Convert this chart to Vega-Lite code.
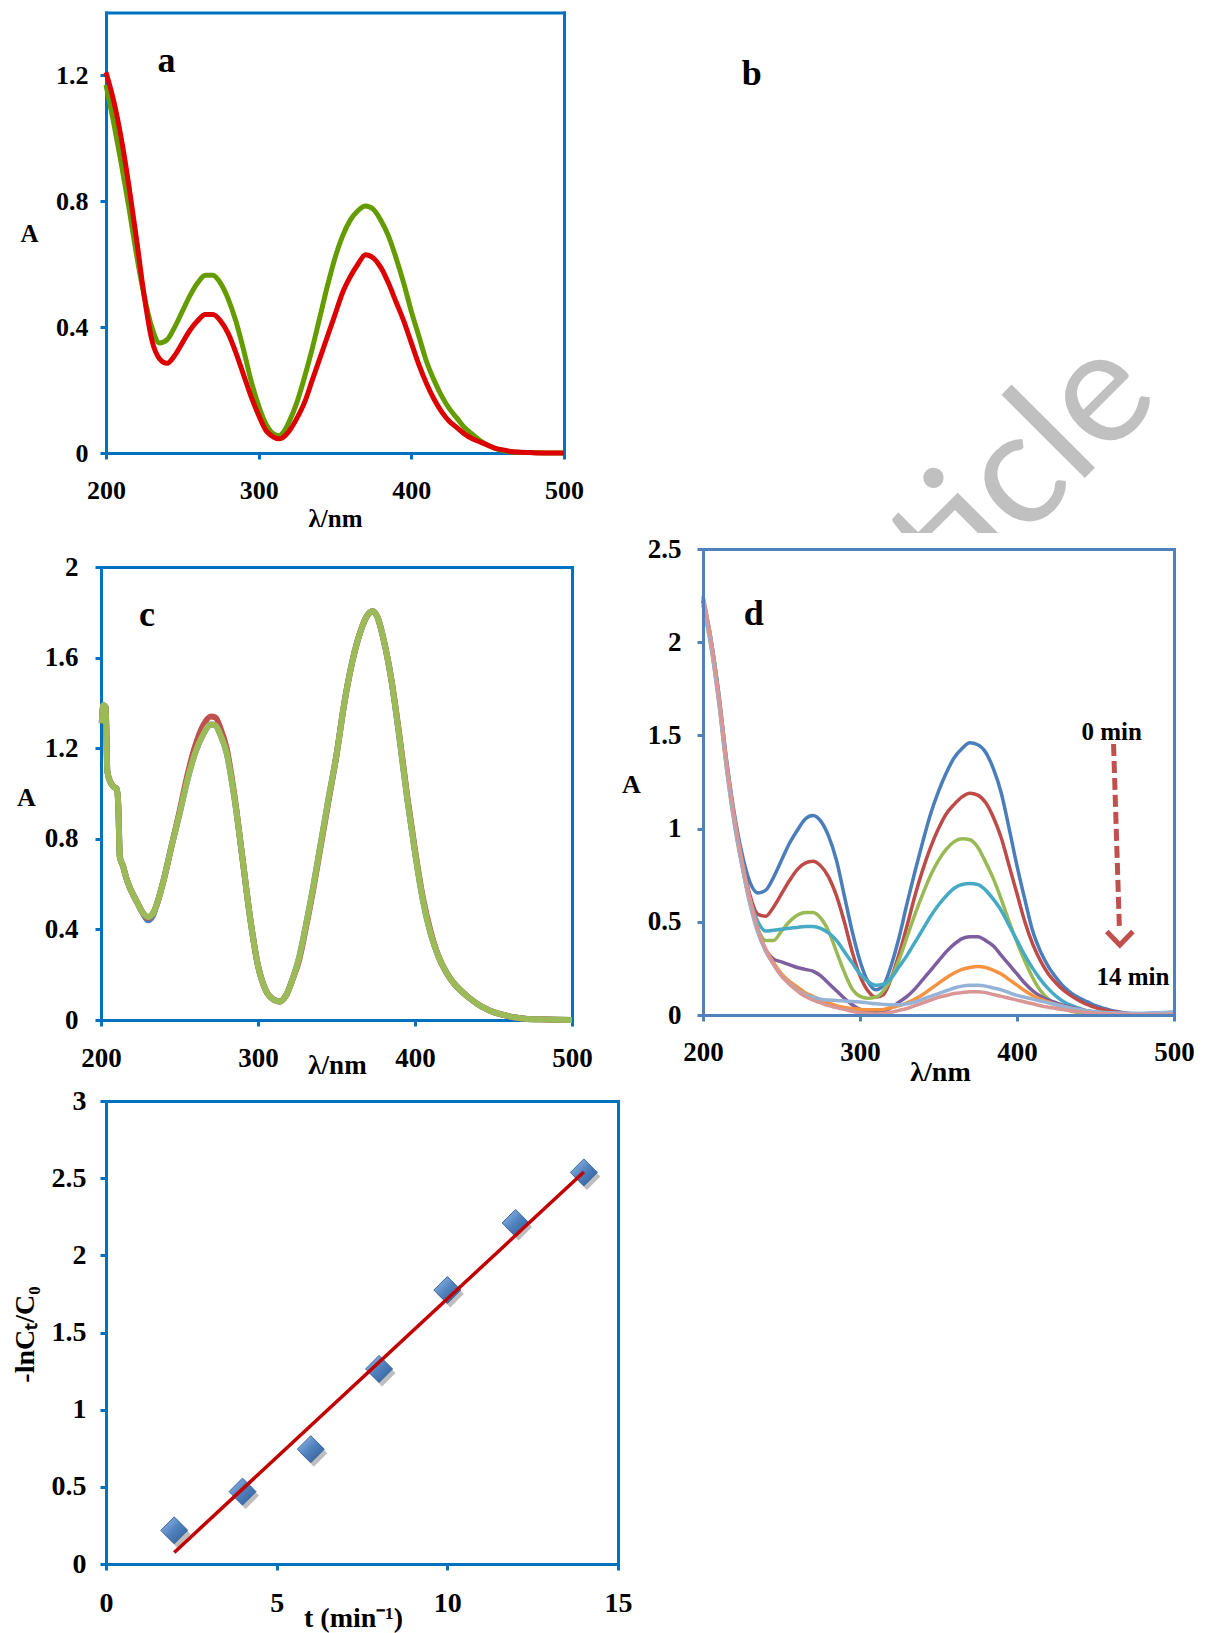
{
  "$schema": "https://vega.github.io/schema/vega-lite/v6.json",
  "width": 1205,
  "height": 1633,
  "autosize": "none",
  "padding": 0,
  "background": "white",
  "config": {
    "view": {"stroke": null},
    "axis": {"grid": false, "labelFont": "Liberation Serif", "labelFontWeight": "bold", "labelColor": "#000000", "titleFont": "Liberation Serif", "titleFontWeight": "bold", "titleColor": "#000000", "tickWidth": 3, "tickSize": 6, "domainWidth": 3, "domainCap": "square", "labelBaseline": "middle", "titleAlign": "center", "titleBaseline": "middle", "format": ".3~f", "labelOverlap": false, "labelFlush": false},
    "text": {"font": "Liberation Serif", "fontWeight": "bold", "color": "#000000"}
  },
  "datasets": {
    "pa": [{"nm":200,"green":1.17,"red":1.21},{"nm":205,"green":1.05,"red":1.12},{"nm":210,"green":0.92,"red":1.0},{"nm":215,"green":0.78,"red":0.85},{"nm":220,"green":0.63,"red":0.68},{"nm":225,"green":0.5,"red":0.5},{"nm":230,"green":0.4,"red":0.36},{"nm":235,"green":0.35,"red":0.3},{"nm":240,"green":0.36,"red":0.285},{"nm":245,"green":0.4,"red":0.31},{"nm":250,"green":0.45,"red":0.35},{"nm":255,"green":0.5,"red":0.39},{"nm":260,"green":0.54,"red":0.42},{"nm":265,"green":0.565,"red":0.44},{"nm":270,"green":0.565,"red":0.44},{"nm":275,"green":0.54,"red":0.42},{"nm":280,"green":0.49,"red":0.38},{"nm":285,"green":0.42,"red":0.32},{"nm":290,"green":0.33,"red":0.25},{"nm":295,"green":0.23,"red":0.18},{"nm":300,"green":0.15,"red":0.12},{"nm":305,"green":0.09,"red":0.07},{"nm":310,"green":0.06,"red":0.05},{"nm":313,"green":0.055,"red":0.045},{"nm":316,"green":0.065,"red":0.05},{"nm":320,"green":0.1,"red":0.07},{"nm":325,"green":0.16,"red":0.11},{"nm":330,"green":0.24,"red":0.16},{"nm":335,"green":0.33,"red":0.23},{"nm":340,"green":0.43,"red":0.3},{"nm":345,"green":0.53,"red":0.37},{"nm":350,"green":0.62,"red":0.44},{"nm":355,"green":0.69,"red":0.51},{"nm":360,"green":0.74,"red":0.56},{"nm":365,"green":0.77,"red":0.6},{"nm":370,"green":0.785,"red":0.63},{"nm":375,"green":0.775,"red":0.62},{"nm":380,"green":0.74,"red":0.59},{"nm":385,"green":0.69,"red":0.54},{"nm":390,"green":0.62,"red":0.48},{"nm":395,"green":0.54,"red":0.42},{"nm":400,"green":0.45,"red":0.35},{"nm":405,"green":0.37,"red":0.28},{"nm":410,"green":0.29,"red":0.22},{"nm":415,"green":0.23,"red":0.17},{"nm":420,"green":0.18,"red":0.13},{"nm":425,"green":0.14,"red":0.1},{"nm":430,"green":0.11,"red":0.08},{"nm":435,"green":0.08,"red":0.06},{"nm":440,"green":0.06,"red":0.045},{"nm":445,"green":0.04,"red":0.035},{"nm":450,"green":0.025,"red":0.025},{"nm":455,"green":0.015,"red":0.015},{"nm":460,"green":0.008,"red":0.01},{"nm":465,"green":0.004,"red":0.005},{"nm":470,"green":0.002,"red":0.003},{"nm":480,"green":0.001,"red":0.001},{"nm":490,"green":0,"red":0},{"nm":500,"green":0,"red":0}],
    "la": [{"x":239.6,"y":1.246,"label":"a"},{"x":623,"y":1.206,"label":"b"}],
    "pc": [{"nm":200.5,"b":1.31,"r":1.31,"g":1.31},{"nm":201.5,"b":1.39,"r":1.39,"g":1.39},{"nm":203,"b":1.38,"r":1.38,"g":1.38},{"nm":204,"b":1.1,"r":1.1,"g":1.1},{"nm":206,"b":1.05,"r":1.05,"g":1.05},{"nm":208,"b":1.03,"r":1.03,"g":1.03},{"nm":210,"b":1.02,"r":1.02,"g":1.02},{"nm":211,"b":0.95,"r":0.95,"g":0.95},{"nm":212,"b":0.72,"r":0.72,"g":0.72},{"nm":214,"b":0.68,"r":0.68,"g":0.68},{"nm":216,"b":0.63,"r":0.63,"g":0.63},{"nm":218,"b":0.59,"r":0.59,"g":0.59},{"nm":220,"b":0.56,"r":0.56,"g":0.56},{"nm":223,"b":0.52,"r":0.52,"g":0.52},{"nm":226,"b":0.48,"r":0.48,"g":0.48},{"nm":230,"b":0.44,"r":0.45,"g":0.455},{"nm":233,"b":0.46,"r":0.47,"g":0.47},{"nm":236,"b":0.52,"r":0.52,"g":0.52},{"nm":240,"b":0.62,"r":0.62,"g":0.62},{"nm":245,"b":0.77,"r":0.77,"g":0.77},{"nm":250,"b":0.91,"r":0.92,"g":0.91},{"nm":255,"b":1.06,"r":1.08,"g":1.06},{"nm":260,"b":1.18,"r":1.21,"g":1.18},{"nm":265,"b":1.26,"r":1.3,"g":1.26},{"nm":270,"b":1.305,"r":1.34,"g":1.305},{"nm":273,"b":1.3,"r":1.335,"g":1.3},{"nm":276,"b":1.26,"r":1.29,"g":1.26},{"nm":280,"b":1.18,"r":1.2,"g":1.18},{"nm":285,"b":0.98,"r":0.99,"g":0.98},{"nm":290,"b":0.72,"r":0.72,"g":0.72},{"nm":295,"b":0.45,"r":0.45,"g":0.45},{"nm":300,"b":0.24,"r":0.24,"g":0.24},{"nm":305,"b":0.13,"r":0.13,"g":0.13},{"nm":310,"b":0.09,"r":0.09,"g":0.09},{"nm":314,"b":0.082,"r":0.082,"g":0.082},{"nm":318,"b":0.11,"r":0.11,"g":0.11},{"nm":322,"b":0.18,"r":0.18,"g":0.18},{"nm":326,"b":0.27,"r":0.26,"g":0.27},{"nm":330,"b":0.4,"r":0.39,"g":0.4},{"nm":335,"b":0.58,"r":0.57,"g":0.58},{"nm":340,"b":0.78,"r":0.77,"g":0.78},{"nm":345,"b":0.98,"r":0.97,"g":0.98},{"nm":350,"b":1.17,"r":1.17,"g":1.17},{"nm":355,"b":1.4,"r":1.4,"g":1.4},{"nm":360,"b":1.58,"r":1.58,"g":1.58},{"nm":365,"b":1.71,"r":1.71,"g":1.71},{"nm":370,"b":1.79,"r":1.79,"g":1.79},{"nm":373,"b":1.805,"r":1.805,"g":1.805},{"nm":376,"b":1.78,"r":1.78,"g":1.78},{"nm":380,"b":1.68,"r":1.68,"g":1.68},{"nm":385,"b":1.5,"r":1.5,"g":1.5},{"nm":390,"b":1.25,"r":1.26,"g":1.25},{"nm":395,"b":0.98,"r":0.99,"g":0.98},{"nm":400,"b":0.74,"r":0.75,"g":0.74},{"nm":405,"b":0.53,"r":0.54,"g":0.53},{"nm":410,"b":0.38,"r":0.39,"g":0.38},{"nm":415,"b":0.28,"r":0.28,"g":0.28},{"nm":420,"b":0.21,"r":0.21,"g":0.21},{"nm":425,"b":0.16,"r":0.16,"g":0.16},{"nm":430,"b":0.125,"r":0.125,"g":0.125},{"nm":435,"b":0.095,"r":0.095,"g":0.095},{"nm":440,"b":0.07,"r":0.07,"g":0.07},{"nm":445,"b":0.05,"r":0.05,"g":0.05},{"nm":450,"b":0.035,"r":0.035,"g":0.035},{"nm":455,"b":0.025,"r":0.025,"g":0.025},{"nm":460,"b":0.016,"r":0.016,"g":0.016},{"nm":465,"b":0.01,"r":0.01,"g":0.01},{"nm":470,"b":0.006,"r":0.006,"g":0.006},{"nm":480,"b":0.003,"r":0.003,"g":0.003},{"nm":490,"b":0.001,"r":0.001,"g":0.001},{"nm":500,"b":0,"r":0,"g":0}],
    "lc": [{"x":229.3,"y":1.788,"label":"c"}],
    "pd": [
      {"nm":200,"s0":2.24,"s2":2.22,"s4":2.22,"s6":2.23,"s8":2.22,"s10":2.2,"s12":2.2,"s14":2.25},
      {"nm":205,"s0":2.02,"s2":2.0,"s4":2.0,"s6":2.02,"s8":2.0,"s10":1.98,"s12":1.98,"s14":2.02},
      {"nm":210,"s0":1.73,"s2":1.7,"s4":1.7,"s6":1.72,"s8":1.7,"s10":1.68,"s12":1.68,"s14":1.72},
      {"nm":215,"s0":1.37,"s2":1.34,"s4":1.34,"s6":1.36,"s8":1.34,"s10":1.32,"s12":1.32,"s14":1.36},
      {"nm":220,"s0":1.08,"s2":1.05,"s4":1.04,"s6":1.06,"s8":1.04,"s10":1.03,"s12":1.02,"s14":1.06},
      {"nm":225,"s0":0.86,"s2":0.82,"s4":0.8,"s6":0.82,"s8":0.8,"s10":0.8,"s12":0.79,"s14":0.82},
      {"nm":230,"s0":0.71,"s2":0.64,"s4":0.6,"s6":0.62,"s8":0.6,"s10":0.6,"s12":0.59,"s14":0.62},
      {"nm":235,"s0":0.655,"s2":0.54,"s4":0.46,"s6":0.5,"s8":0.45,"s10":0.45,"s12":0.44,"s14":0.46},
      {"nm":240,"s0":0.67,"s2":0.53,"s4":0.4,"s6":0.45,"s8":0.35,"s10":0.35,"s12":0.34,"s14":0.35},
      {"nm":245,"s0":0.74,"s2":0.58,"s4":0.4,"s6":0.455,"s8":0.3,"s10":0.28,"s12":0.27,"s14":0.27},
      {"nm":250,"s0":0.83,"s2":0.65,"s4":0.45,"s6":0.46,"s8":0.285,"s10":0.22,"s12":0.21,"s14":0.21},
      {"nm":255,"s0":0.92,"s2":0.72,"s4":0.5,"s6":0.465,"s8":0.27,"s10":0.18,"s12":0.17,"s14":0.165},
      {"nm":260,"s0":0.99,"s2":0.78,"s4":0.535,"s6":0.47,"s8":0.255,"s10":0.15,"s12":0.135,"s14":0.13},
      {"nm":265,"s0":1.05,"s2":0.815,"s4":0.55,"s6":0.475,"s8":0.245,"s10":0.12,"s12":0.11,"s14":0.1},
      {"nm":270,"s0":1.07,"s2":0.825,"s4":0.55,"s6":0.475,"s8":0.235,"s10":0.1,"s12":0.095,"s14":0.08},
      {"nm":275,"s0":1.04,"s2":0.8,"s4":0.52,"s6":0.465,"s8":0.21,"s10":0.08,"s12":0.085,"s14":0.065},
      {"nm":280,"s0":0.96,"s2":0.74,"s4":0.45,"s6":0.44,"s8":0.17,"s10":0.065,"s12":0.08,"s14":0.05},
      {"nm":285,"s0":0.83,"s2":0.64,"s4":0.34,"s6":0.4,"s8":0.13,"s10":0.05,"s12":0.078,"s14":0.04},
      {"nm":290,"s0":0.64,"s2":0.5,"s4":0.23,"s6":0.34,"s8":0.09,"s10":0.04,"s12":0.075,"s14":0.03},
      {"nm":295,"s0":0.45,"s2":0.34,"s4":0.14,"s6":0.28,"s8":0.055,"s10":0.035,"s12":0.072,"s14":0.02},
      {"nm":300,"s0":0.29,"s2":0.21,"s4":0.1,"s6":0.22,"s8":0.03,"s10":0.03,"s12":0.07,"s14":0.012},
      {"nm":305,"s0":0.18,"s2":0.13,"s4":0.09,"s6":0.18,"s8":0.02,"s10":0.028,"s12":0.065,"s14":0.008},
      {"nm":310,"s0":0.135,"s2":0.095,"s4":0.095,"s6":0.16,"s8":0.015,"s10":0.028,"s12":0.06,"s14":0.006},
      {"nm":315,"s0":0.16,"s2":0.11,"s4":0.13,"s6":0.165,"s8":0.02,"s10":0.03,"s12":0.057,"s14":0.008},
      {"nm":320,"s0":0.27,"s2":0.2,"s4":0.2,"s6":0.2,"s8":0.04,"s10":0.04,"s12":0.055,"s14":0.015},
      {"nm":325,"s0":0.42,"s2":0.33,"s4":0.3,"s6":0.26,"s8":0.07,"s10":0.05,"s12":0.055,"s14":0.025},
      {"nm":330,"s0":0.6,"s2":0.48,"s4":0.42,"s6":0.32,"s8":0.1,"s10":0.065,"s12":0.06,"s14":0.035},
      {"nm":335,"s0":0.77,"s2":0.64,"s4":0.54,"s6":0.39,"s8":0.14,"s10":0.085,"s12":0.07,"s14":0.05},
      {"nm":340,"s0":0.93,"s2":0.78,"s4":0.65,"s6":0.46,"s8":0.19,"s10":0.11,"s12":0.085,"s14":0.065},
      {"nm":345,"s0":1.08,"s2":0.9,"s4":0.75,"s6":0.53,"s8":0.24,"s10":0.14,"s12":0.1,"s14":0.08},
      {"nm":350,"s0":1.2,"s2":1.0,"s4":0.83,"s6":0.59,"s8":0.29,"s10":0.17,"s12":0.115,"s14":0.095},
      {"nm":355,"s0":1.3,"s2":1.08,"s4":0.89,"s6":0.64,"s8":0.34,"s10":0.2,"s12":0.13,"s14":0.105},
      {"nm":360,"s0":1.38,"s2":1.13,"s4":0.93,"s6":0.68,"s8":0.38,"s10":0.225,"s12":0.145,"s14":0.115},
      {"nm":365,"s0":1.43,"s2":1.17,"s4":0.945,"s6":0.7,"s8":0.41,"s10":0.245,"s12":0.155,"s14":0.12},
      {"nm":370,"s0":1.46,"s2":1.19,"s4":0.94,"s6":0.705,"s8":0.42,"s10":0.255,"s12":0.16,"s14":0.125},
      {"nm":375,"s0":1.45,"s2":1.18,"s4":0.9,"s6":0.7,"s8":0.42,"s10":0.26,"s12":0.16,"s14":0.125},
      {"nm":380,"s0":1.41,"s2":1.14,"s4":0.82,"s6":0.67,"s8":0.4,"s10":0.255,"s12":0.155,"s14":0.12},
      {"nm":385,"s0":1.32,"s2":1.06,"s4":0.73,"s6":0.62,"s8":0.37,"s10":0.24,"s12":0.145,"s14":0.11},
      {"nm":390,"s0":1.19,"s2":0.95,"s4":0.62,"s6":0.56,"s8":0.32,"s10":0.22,"s12":0.135,"s14":0.1},
      {"nm":395,"s0":1.0,"s2":0.8,"s4":0.5,"s6":0.48,"s8":0.27,"s10":0.19,"s12":0.12,"s14":0.09},
      {"nm":400,"s0":0.8,"s2":0.65,"s4":0.39,"s6":0.4,"s8":0.22,"s10":0.16,"s12":0.105,"s14":0.08},
      {"nm":405,"s0":0.62,"s2":0.5,"s4":0.29,"s6":0.32,"s8":0.17,"s10":0.13,"s12":0.095,"s14":0.07},
      {"nm":410,"s0":0.45,"s2":0.38,"s4":0.2,"s6":0.25,"s8":0.13,"s10":0.105,"s12":0.085,"s14":0.06},
      {"nm":415,"s0":0.34,"s2":0.29,"s4":0.13,"s6":0.19,"s8":0.1,"s10":0.085,"s12":0.075,"s14":0.05},
      {"nm":420,"s0":0.26,"s2":0.22,"s4":0.085,"s6":0.14,"s8":0.08,"s10":0.07,"s12":0.065,"s14":0.042},
      {"nm":425,"s0":0.2,"s2":0.17,"s4":0.055,"s6":0.1,"s8":0.065,"s10":0.055,"s12":0.055,"s14":0.035},
      {"nm":430,"s0":0.15,"s2":0.13,"s4":0.035,"s6":0.07,"s8":0.05,"s10":0.045,"s12":0.045,"s14":0.028},
      {"nm":435,"s0":0.115,"s2":0.1,"s4":0.02,"s6":0.05,"s8":0.04,"s10":0.035,"s12":0.035,"s14":0.022},
      {"nm":440,"s0":0.09,"s2":0.075,"s4":0.012,"s6":0.035,"s8":0.03,"s10":0.028,"s12":0.028,"s14":0.017},
      {"nm":445,"s0":0.07,"s2":0.055,"s4":0.008,"s6":0.02,"s8":0.022,"s10":0.02,"s12":0.022,"s14":0.013},
      {"nm":450,"s0":0.05,"s2":0.04,"s4":0.005,"s6":0.012,"s8":0.015,"s10":0.015,"s12":0.018,"s14":0.01},
      {"nm":460,"s0":0.025,"s2":0.02,"s4":0.003,"s6":0.006,"s8":0.008,"s10":0.008,"s12":0.012,"s14":0.006},
      {"nm":470,"s0":0.01,"s2":0.008,"s4":0.003,"s6":0.004,"s8":0.005,"s10":0.005,"s12":0.01,"s14":0.004},
      {"nm":480,"s0":0.005,"s2":0.004,"s4":0.003,"s6":0.003,"s8":0.005,"s10":0.003,"s12":0.01,"s14":0.003},
      {"nm":490,"s0":0.005,"s2":0.004,"s4":0.005,"s6":0.005,"s8":0.01,"s10":0.003,"s12":0.012,"s14":0.003},
      {"nm":500,"s0":0.012,"s2":0.01,"s4":0.01,"s6":0.01,"s8":0.015,"s10":0.005,"s12":0.015,"s14":0.005}
    ],
    "ld": [{"x":232.3,"y":2.151,"label":"d"}],
    "ldm": [{"x":460.3,"y":1.52,"label":"0 min"},{"x":473.8,"y":0.205,"label":"14 min"}],
    "wm": [{"x":493,"y":3.3,"label":"Article"}],
    "arrow": [{"x":461.5,"y":1.454,"x2":465.2,"y2":0.47}],
    "head": [{"x":465.5,"y":0.41}],
    "pe": [{"t":2,"v":0.218},{"t":4,"v":0.469},{"t":6,"v":0.744},{"t":8,"v":1.264},{"t":10,"v":1.775},{"t":12,"v":2.21},{"t":14,"v":2.537}],
    "fit": [{"t":2,"fit":0.075},{"t":14,"fit":2.54}]
  },
  "layer": [
    {
      "data": {"name": "pa"},
      "layer": [
        {"mark": {"type": "line", "color": "#649c00", "strokeWidth": 5, "interpolate": "monotone"},
         "encoding": {
           "x": {"field": "nm", "type": "quantitative", "scale": {"domain": [200, 500], "range": [106, 564], "nice": false, "zero": false},
                 "axis": {"orient": "bottom", "offset": -1180, "values": [200, 300, 400, 500], "labelFontSize": 26, "labelPadding": 31, "domainColor": "#0070c0", "tickColor": "#0070c0", "title": "λ/nm", "titleFontSize": 25, "titleX": 335, "titleY": 65}},
           "y": {"field": "green", "type": "quantitative", "scale": {"domain": [0, 1.4], "range": [453, 12.5], "nice": false},
                 "axis": {"orient": "left", "offset": -106, "values": [0, 0.4, 0.8, 1.2], "labelFontSize": 26, "labelPadding": 12, "domainColor": "#0070c0", "tickColor": "#0070c0", "title": "A", "titleAngle": 0, "titleFontSize": 25, "titleX": -77, "titleY": 233}}
         }},
        {"mark": {"type": "line", "color": "#dc0000", "strokeWidth": 5, "interpolate": "monotone"},
         "encoding": {"x": {"field": "nm", "type": "quantitative", "axis": null}, "y": {"field": "red", "type": "quantitative", "axis": null}}},
        {"data": {"name": "la"},
         "mark": {"type": "text", "fontSize": 36, "baseline": "middle", "align": "center"},
         "encoding": {
           "x": {"field": "x", "type": "quantitative", "axis": {"orient": "top", "offset": -12.5, "labels": false, "ticks": false, "title": null, "domainColor": "#0070c0"}},
           "y": {"field": "y", "type": "quantitative", "axis": {"orient": "right", "offset": -641, "labels": false, "ticks": false, "title": null, "domainColor": "#0070c0"}},
           "text": {"field": "label"}
         }}
      ]
    },
    {
      "data": {"name": "pc"},
      "layer": [
        {"mark": {"type": "line", "color": "#4f81bd", "strokeWidth": 6, "interpolate": "monotone"},
         "encoding": {
           "x": {"field": "nm", "type": "quantitative", "scale": {"domain": [200, 500], "range": [101, 572], "nice": false, "zero": false},
                 "axis": {"orient": "bottom", "offset": -613, "values": [200, 300, 400, 500], "labelFontSize": 27, "labelPadding": 32, "domainColor": "#0070c0", "tickColor": "#0070c0", "title": "λ/nm", "titleFontSize": 27, "titleX": 337, "titleY": 45}},
           "y": {"field": "b", "type": "quantitative", "scale": {"domain": [0, 2], "range": [1020, 567], "nice": false},
                 "axis": {"orient": "left", "offset": -101, "values": [0, 0.4, 0.8, 1.2, 1.6, 2], "labelFontSize": 27, "labelPadding": 17, "domainColor": "#0070c0", "tickColor": "#0070c0", "title": "A", "titleAngle": 0, "titleFontSize": 26, "titleX": -75, "titleY": 797}}
         }},
        {"mark": {"type": "line", "color": "#c0504d", "strokeWidth": 6, "interpolate": "monotone"},
         "encoding": {"x": {"field": "nm", "type": "quantitative", "axis": null}, "y": {"field": "r", "type": "quantitative", "axis": null}}},
        {"mark": {"type": "line", "color": "#9bbb59", "strokeWidth": 6, "interpolate": "monotone"},
         "encoding": {"x": {"field": "nm", "type": "quantitative", "axis": null}, "y": {"field": "g", "type": "quantitative", "axis": null}}},
        {"data": {"name": "lc"},
         "mark": {"type": "text", "fontSize": 36, "baseline": "middle", "align": "center"},
         "encoding": {
           "x": {"field": "x", "type": "quantitative", "axis": {"orient": "top", "offset": -567, "labels": false, "ticks": false, "title": null, "domainColor": "#0070c0"}},
           "y": {"field": "y", "type": "quantitative", "axis": {"orient": "right", "offset": -633, "labels": false, "ticks": false, "title": null, "domainColor": "#0070c0"}},
           "text": {"field": "label"}
         }}
      ]
    },
    {
      "layer": [
        {"data": {"name": "wm"},
         "mark": {"type": "text", "font": "Lato", "fontWeight": "normal", "fontSize": 160, "angle": 315, "align": "right", "baseline": "alphabetic", "color": "#c0c0c0"},
         "encoding": {
           "x": {"field": "x", "type": "quantitative", "scale": {"domain": [200, 500], "range": [703, 1174], "nice": false, "zero": false}, "axis": null},
           "y": {"field": "y", "type": "quantitative", "scale": {"domain": [0, 2.5], "range": [1015, 549], "nice": false}, "axis": null},
           "text": {"field": "label"}
         }},
        {"data": {"values": [{}]},
         "mark": {"type": "rect", "color": "white"},
         "encoding": {
           "x": {"datum": 165, "type": "quantitative", "axis": null},
           "x2": {"datum": 512},
           "y": {"datum": -0.3, "type": "quantitative", "axis": null},
           "y2": {"datum": 2.586}
         }},
        {"data": {"name": "pd"},
         "transform": [{"fold": ["s0", "s2", "s4", "s6", "s8", "s10", "s12", "s14"], "as": ["series", "A"]}],
         "mark": {"type": "line", "strokeWidth": 3.5, "interpolate": "monotone"},
         "encoding": {
           "x": {"field": "nm", "type": "quantitative",
                 "axis": {"orient": "bottom", "offset": -618, "zindex": 1, "values": [200, 300, 400, 500], "labelFontSize": 27, "labelPadding": 31, "domainColor": "#4f81bd", "tickColor": "#4f81bd", "title": "λ/nm", "titleFontSize": 28, "titleX": 940, "titleY": 57}},
           "y": {"field": "A", "type": "quantitative",
                 "axis": {"orient": "left", "offset": -703, "zindex": 1, "values": [0, 0.5, 1, 1.5, 2, 2.5], "labelFontSize": 27, "labelPadding": 16, "domainColor": "#4f81bd", "tickColor": "#4f81bd", "title": "A", "titleAngle": 0, "titleFontSize": 26, "titleX": -72, "titleY": 784}},
           "color": {"field": "series", "type": "nominal", "legend": null,
                     "scale": {"domain": ["s0", "s2", "s4", "s6", "s8", "s10", "s12", "s14"], "range": ["#4a7ebb", "#be4b48", "#98b954", "#46aac5", "#7d5fa0", "#f69240", "#95b3d7", "#d99694"]}}
         }},
        {"data": {"name": "arrow"},
         "mark": {"type": "rule", "color": "#c0504d", "strokeWidth": 5, "strokeDash": [12, 5]},
         "encoding": {
           "x": {"field": "x", "type": "quantitative", "axis": null},
           "y": {"field": "y", "type": "quantitative", "axis": null},
           "x2": {"field": "x2"},
           "y2": {"field": "y2"}
         }},
        {"data": {"name": "head"},
         "mark": {"type": "point", "shape": "M-1,-0.55L0,0.5L1,-0.55", "filled": false, "strokeWidth": 5, "size": 680, "color": "#c0504d", "opacity": 1},
         "encoding": {
           "x": {"field": "x", "type": "quantitative", "axis": null},
           "y": {"field": "y", "type": "quantitative", "axis": null}
         }},
        {"data": {"name": "ldm"},
         "mark": {"type": "text", "fontSize": 25, "baseline": "middle", "align": "center"},
         "encoding": {
           "x": {"field": "x", "type": "quantitative", "axis": null},
           "y": {"field": "y", "type": "quantitative", "axis": null},
           "text": {"field": "label"}
         }},
        {"data": {"name": "ld"},
         "mark": {"type": "text", "fontSize": 36, "baseline": "middle", "align": "center"},
         "encoding": {
           "x": {"field": "x", "type": "quantitative", "axis": {"orient": "top", "offset": -549, "zindex": 1, "labels": false, "ticks": false, "title": null, "domainColor": "#4f81bd"}},
           "y": {"field": "y", "type": "quantitative", "axis": {"orient": "right", "offset": -31, "zindex": 1, "labels": false, "ticks": false, "title": null, "domainColor": "#4f81bd"}},
           "text": {"field": "label"}
         }}
      ]
    },
    {
      "layer": [
        {"data": {"name": "pe"},
         "mark": {"type": "point", "shape": "diamond", "filled": true, "size": 729, "color": "#6e6e6e", "opacity": 0.45, "xOffset": 3, "yOffset": 4},
         "encoding": {
           "x": {"field": "t", "type": "quantitative", "scale": {"domain": [0, 15], "range": [106, 618], "nice": false, "zero": false},
                 "axis": {"orient": "bottom", "offset": -69, "values": [0, 5, 10, 15], "labelFontSize": 28, "labelPadding": 33, "domainColor": "#0070c0", "tickColor": "#0070c0", "title": "t (min⁻¹)", "titleFontSize": 28, "titleX": 353, "titleY": 54}},
           "y": {"field": "v", "type": "quantitative", "scale": {"domain": [0, 3], "range": [1564, 1101], "nice": false},
                 "axis": {"orient": "left", "offset": -106, "values": [0, 0.5, 1, 1.5, 2, 2.5, 3], "labelFontSize": 28, "labelPadding": 14, "domainColor": "#0070c0", "tickColor": "#0070c0", "title": "-lnCₜ/C₀", "titleAngle": 270, "titleFontSize": 28, "titleX": -81, "titleY": 1334}}
         }},
        {"data": {"name": "pe"},
         "mark": {"type": "point", "shape": "diamond", "filled": true, "size": 729, "opacity": 1, "strokeWidth": 1, "stroke": "#3a68a8",
                  "fill": {"gradient": "linear", "x1": 0, "y1": 0, "x2": 1, "y2": 1, "stops": [{"offset": 0, "color": "#9dc0ea"}, {"offset": 0.5, "color": "#4f81bd"}, {"offset": 1, "color": "#2d5b96"}]}},
         "encoding": {
           "x": {"field": "t", "type": "quantitative", "axis": null},
           "y": {"field": "v", "type": "quantitative", "axis": null}
         }},
        {"data": {"name": "fit"},
         "mark": {"type": "line", "color": "#c00000", "strokeWidth": 3.5},
         "encoding": {
           "x": {"field": "t", "type": "quantitative", "axis": {"orient": "top", "offset": -1101, "labels": false, "ticks": false, "title": null, "domainColor": "#0070c0"}},
           "y": {"field": "fit", "type": "quantitative", "axis": {"orient": "right", "offset": -587, "labels": false, "ticks": false, "title": null, "domainColor": "#0070c0"}}
         }}
      ]
    }
  ],
  "resolve": {"scale": {"x": "independent", "y": "independent"}}
}
